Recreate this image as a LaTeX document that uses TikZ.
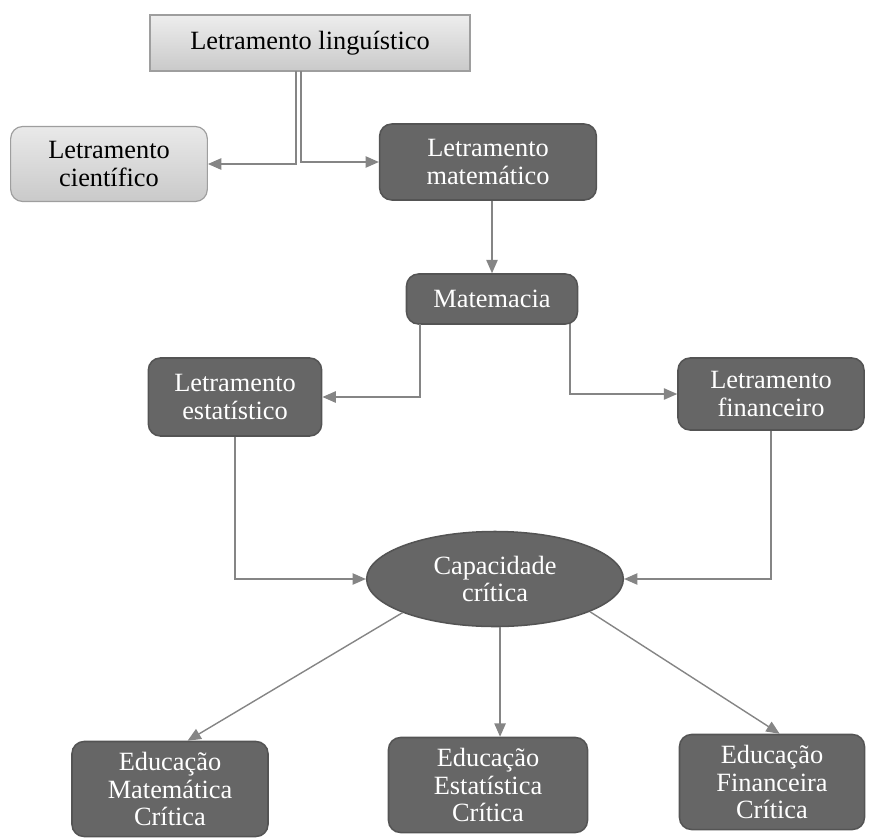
\documentclass[tikz,border=0pt]{standalone}
\usepackage{xcolor}
\usepackage{fontspec}
\setmainfont{Liberation Serif}
\usepackage{tikz}
\usetikzlibrary{shapes.geometric,arrows.meta}
\definecolor{boxdark}{gray}{0.40}
\definecolor{boxlight}{gray}{0.79}
\definecolor{rimdark}{gray}{0.33}
\definecolor{rimlight}{gray}{0.62}
\definecolor{linkgray}{gray}{0.52}

\begin{document}
\begin{tikzpicture}[y=-0.03cm,x=0.03cm,
	every node/.style={font=\fontsize{22.5}{23.5}\selectfont, align=center, inner sep=0pt},
	dark/.style={rounded corners=0.36cm, fill=boxdark, draw=rimdark, line width=1.3pt, text=white},
	light/.style={rounded corners=0.36cm, top color=gray!17, bottom color=boxlight, draw=rimlight, line width=1pt, text=black},
	link/.style={draw=linkgray, line width=1.2pt, -{Triangle[width=0.34cm,length=0.4cm]}}]
	\useasboundingbox (0,0) rectangle (870,839);

	\node[top color=gray!14, bottom color=boxlight, draw=rimlight, line width=1pt, minimum width=9.6cm, minimum height=1.68cm] (ling) at (310,43) {Letramento linguístico};
	\node[light, minimum width=5.9cm, minimum height=2.25cm] (cien) at (109,164) {Letramento\\científico};
	\node[dark, minimum width=6.5cm, minimum height=2.28cm] (mat) at (488,162) {Letramento\\matemático};
	\node[dark, minimum width=5.13cm, minimum height=1.5cm] (mtm) at (492,299) {Matemacia};
	\node[dark, minimum width=5.2cm, minimum height=2.34cm] (est) at (235,397) {Letramento\\estatístico};
	\node[dark, minimum width=5.58cm, minimum height=2.16cm] (fin) at (771,394) {Letramento\\financeiro};
	\node[ellipse, fill=boxdark, draw=rimdark, line width=1.3pt, text=white, minimum width=7.7cm, minimum height=2.85cm] (cap) at (495,579) {Capacidade\\crítica};
	\node[dark, minimum width=5.88cm, minimum height=2.85cm] (edmc) at (170,789) {Educação\\Matemática\\Crítica};
	\node[dark, minimum width=5.97cm, minimum height=2.85cm] (edec) at (488,785) {Educação\\Estatística\\Crítica};
	\node[dark, minimum width=5.55cm, minimum height=2.85cm] (edfc) at (772,782) {Educação\\Financeira\\Crítica};

	\coordinate (lingL) at (296,71);
	\coordinate (lingR) at (301,71);
	\coordinate (mtmL) at (420,324);
	\coordinate (mtmR) at (570,324);

	\draw[link] (lingL) |- (cien);
	\draw[link] (lingR) |- (mat);
	\draw[link] (mat.south -| mtm.north) -- (mtm.north);
	\draw[link] (mtmL) |- (est);
	\draw[link] (mtmR) |- (fin);
	\draw[link] (est.south) |- (cap);
	\draw[link] (fin.south) |- (cap);
	\draw[link] (cap.200) -- (edmc.70);
	\draw[link] (cap.-84) -- (cap.-84 |- edec.north);
	\draw[link] (cap.-19) -- (edfc.81);
\end{tikzpicture}
\end{document}
